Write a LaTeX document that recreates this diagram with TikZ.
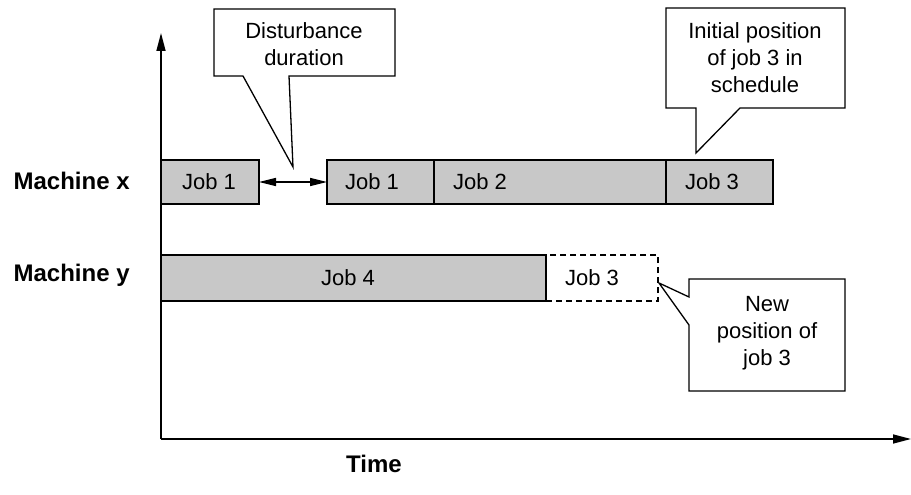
\documentclass[tikz,border=0pt]{standalone}
\usepackage{fontspec}
\setmainfont{Liberation Sans}
\usetikzlibrary{arrows.meta}
\definecolor{jobgray}{HTML}{C8C8C8}
\begin{document}
\begin{tikzpicture}[x=1pt,y=-1pt,line width=1.3pt,
  jobbox/.style={draw,fill=jobgray,inner sep=0pt,outer sep=0pt,anchor=north west},
  newbox/.style={draw,dashed,dash pattern=on 6pt off 4pt,inner sep=0pt,outer sep=0pt,anchor=north west},
  jobtxt/.style={font=\fontsize{22}{27}\selectfont,inner sep=0pt},
  calltxt/.style={font=\fontsize{22}{27}\selectfont,align=center,inner sep=0pt},
  lbl/.style={font=\fontsize{24}{28}\selectfont\bfseries,inner sep=0pt},
  callout/.style={draw,fill=white,line width=1.3pt,line join=miter},
  axis/.style={-{Triangle[length=18pt,width=9pt]},line width=1.5pt}]
\useasboundingbox (0,0) rectangle (911,495);
% axes
\coordinate (o) at (161,439);
\coordinate (ytop) at (161,33);
\coordinate (xend) at (911,439);
\draw[axis] (o) -- (ytop);
\draw[axis] (o) -- (xend);
% machine x
\node[jobbox,minimum width=98pt,minimum height=44pt] (j1a) at (161,160) {};
\node[jobbox,minimum width=107pt,minimum height=44pt] (j1b) at (327,160) {};
\node[jobbox,minimum width=232pt,minimum height=44pt] (j2) at (434,160) {};
\node[jobbox,minimum width=107pt,minimum height=44pt] (j3) at (666,160) {};
% machine y
\node[jobbox,minimum width=385pt,minimum height=46pt] (j4) at (161,255) {};
\node[newbox,minimum width=112pt,minimum height=46pt] (j3n) at (546,255) {};
% job texts
\node[jobtxt] (t1a) at (209,182) {Job 1};
\node[jobtxt] (t1b) at (372,182) {Job 1};
\node[jobtxt] (t2) at (480,182) {Job 2};
\node[jobtxt] (t3) at (712,182) {Job 3};
\node[jobtxt] (t4) at (348,278) {Job 4};
\node[jobtxt] (t3n) at (592,278) {Job 3};
% disturbance arrow
\draw[{Triangle[length=17pt,width=8pt]}-{Triangle[length=17pt,width=8pt]},line width=1.3pt] (j1a.east) -- (j1b.west);
% callouts
\draw[callout] (214,9) -- (395,9) -- (395,76) -- (289,76) -- (293,167) -- (243,76) -- (214,76) -- cycle;
\node[calltxt] (cd) at (304,44) {Disturbance\\duration};
\draw[callout] (666,8) -- (845,8) -- (845,108) -- (740,108) -- (696,153) -- (696,108) -- (666,108) -- cycle;
\node[calltxt] (ci) at (755,58) {Initial position\\of job 3 in\\schedule};
\draw[callout] (689,279) -- (845,279) -- (845,391) -- (689,391) -- (689,325) -- (659,283) -- (689,297) -- cycle;
\node[calltxt] (cn) at (767,333) {New\\position of\\job 3};
% labels
\node[lbl,anchor=west] (mx) at (13,181) {Machine x};
\node[lbl,anchor=west] (my) at (13,275) {Machine y};
\node[lbl] (time) at (374,464) {Time};
\end{tikzpicture}
\end{document}
